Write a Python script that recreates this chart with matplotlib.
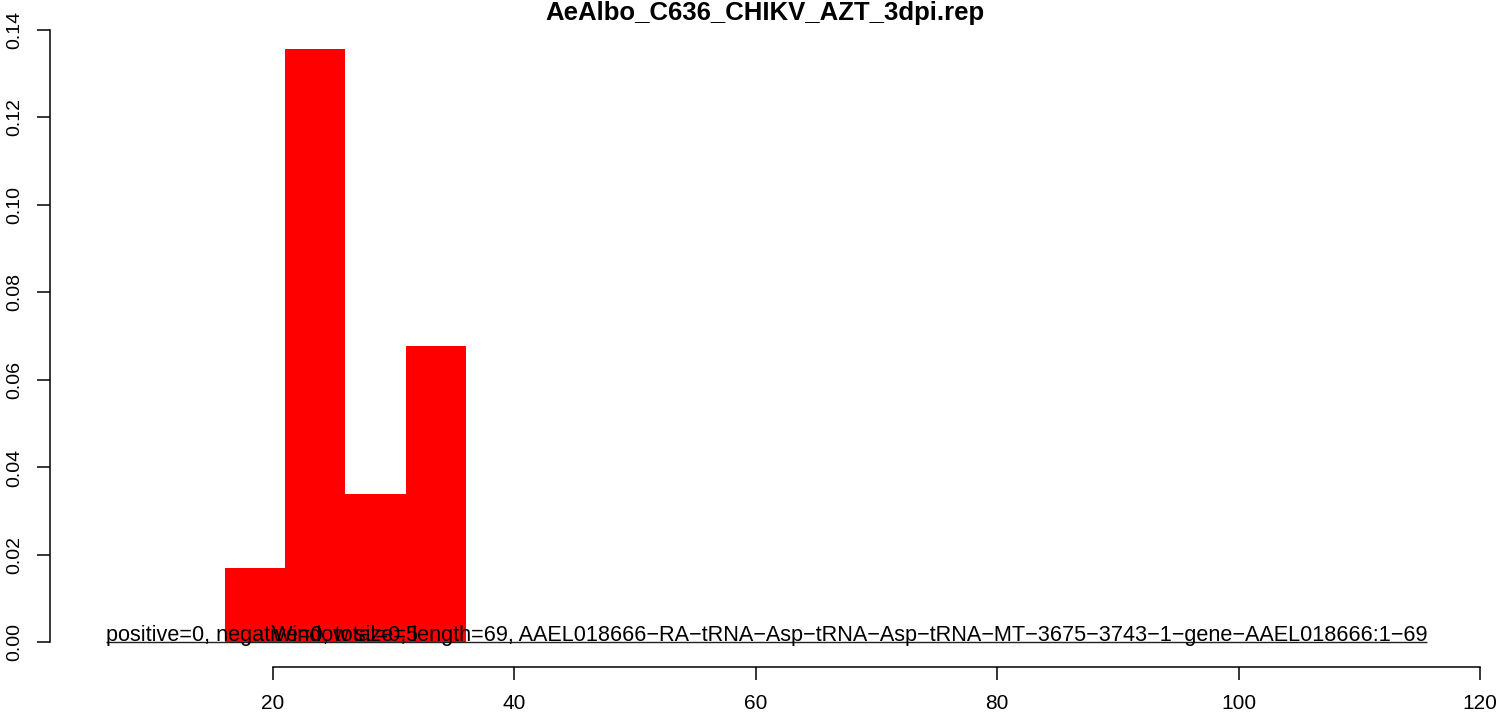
import matplotlib
matplotlib.use("Agg")
import matplotlib.pyplot as plt

# histogram bins (left edges) and density values
bin_left = [16, 21, 26, 31]
bin_width = 5
density = [0.01695, 0.1356, 0.0339, 0.0678]

x_ticks = [20, 40, 60, 80, 100, 120]
y_ticks = [0.00, 0.02, 0.04, 0.06, 0.08, 0.10, 0.12, 0.14]

title = "AeAlbo_C636_CHIKV_AZT_3dpi.rep"
info_text = ("positive=0, negative=0, total=0, length=69, "
             "AAEL018666-RA-tRNA-Asp-tRNA-Asp-tRNA-MT-3675-3743-1-gene-AAEL018666:1-69").replace("-", "\u2212")
window_text = "Window size=5"
info_x = 60.9
window_x = 26

plt.rcParams["font.family"] = ["Liberation Sans", "DejaVu Sans"]
plt.rcParams["font.size"] = 14

W, H = 1504, 719
fig = plt.figure(figsize=(W / 100, H / 100), dpi=100)
ax = fig.add_axes([50 / W, 1 - 667 / H, (1480 - 50) / W, (667 - 5.4) / H])

ax.bar(bin_left, density, width=bin_width, align="edge", color="#FF0000", linewidth=0)

ax.set_xlim(1.52, 120)
ax.set_ylim(-0.0056, 0.1456)

for s in ["top", "right"]:
    ax.spines[s].set_visible(False)
ax.spines["bottom"].set_bounds(x_ticks[0], x_ticks[-1])
ax.spines["left"].set_bounds(y_ticks[0], y_ticks[-1])
ax.spines["bottom"].set_linewidth(1.1)
ax.spines["left"].set_linewidth(1.1)

ax.set_xticks(x_ticks)
ax.set_xticklabels([str(v) for v in x_ticks])
ax.set_yticks(y_ticks)
ax.set_yticklabels([f"{v:.2f}" for v in y_ticks])
ax.tick_params(axis="both", length=9.5, width=1.1)
ax.tick_params(axis="x", pad=10, labelsize=15)
ax.tick_params(axis="y", pad=9.5, labelsize=14, labelrotation=90)
for lab in ax.get_yticklabels():
    lab.set_va("center")

t1 = ax.text(info_x, 0.0003, info_text, ha="center", va="baseline", fontsize=15.6)
ax.text(window_x, 0.0003, window_text, ha="center", va="baseline", fontsize=15.6)

# line under the info text, spanning its width
fig.canvas.draw()
bb = t1.get_window_extent().transformed(ax.transData.inverted())
ax.hlines(0, bb.x0, bb.x1, color="#222222", linewidth=1.0)

fig.text((50 + 1480) / 2 / W, 1 - 13 / H, title, ha="center", va="center",
         fontsize=18.5, fontweight="bold")

fig.savefig("out.png", dpi=100)
